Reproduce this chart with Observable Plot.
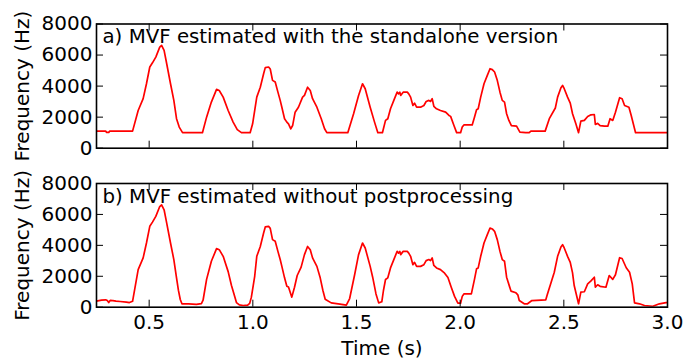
<!DOCTYPE html>
<html>
<head>
<meta charset="utf-8">
<script src="https://cdn.jsdelivr.net/npm/d3@7"></script>
<script src="https://cdn.jsdelivr.net/npm/@observablehq/plot@0.6"></script>
<style>
  html, body { margin: 0; padding: 0; background: #fff; }
  #chart { position: relative; width: 699px; height: 360px; }
  #chart svg { position: absolute; left: 0; display: block; }
</style>
</head>
<body>
<div id="chart"></div>
<script>
// ---------- data ----------
const panelTitles = ["a) MVF estimated with the standalone version", "b) MVF estimated without postprocessing"];
const xLabel = "Time (s)";
const yLabel = "Frequency (Hz)";
const xTicks = [0.5, 1.0, 1.5, 2.0, 2.5, 3.0];
const yTicks = [0, 2000, 4000, 6000, 8000];
const xDomain = [0.246, 3.0];
const yDomain = [0, 8000];

// a) standalone version (with postprocessing)
const timeA = [0.246,0.29,0.295,0.305,0.31,0.42,0.447,0.471,0.487,0.503,0.516,0.532,0.551,0.560,0.572,0.583,0.603,0.619,0.632,0.645,0.661,0.757,0.777,0.800,0.825,0.838,0.857,0.881,0.905,0.925,0.945,0.987,0.999,1.019,1.036,1.052,1.060,1.076,1.084,1.095,1.108,1.121,1.132,1.140,1.153,1.164,1.172,1.183,1.192,1.204,1.220,1.240,1.249,1.264,1.277,1.288,1.309,1.330,1.346,1.357,1.458,1.486,1.510,1.529,1.542,1.566,1.587,1.603,1.625,1.632,1.640,1.651,1.664,1.680,1.696,1.703,1.709,1.713,1.725,1.745,1.752,1.761,1.772,1.780,1.790,1.809,1.825,1.836,1.849,1.857,1.865,1.873,1.886,1.905,1.930,1.946,1.954,1.970,1.983,2.002,2.010,2.018,2.058,2.069,2.079,2.087,2.099,2.115,2.131,2.144,2.155,2.166,2.179,2.192,2.203,2.214,2.224,2.235,2.247,2.272,2.288,2.316,2.333,2.341,2.410,2.430,2.459,2.470,2.486,2.494,2.502,2.518,2.531,2.542,2.558,2.571,2.582,2.599,2.615,2.631,2.647,2.652,2.663,2.675,2.696,2.712,2.723,2.736,2.749,2.769,2.781,2.793,2.814,2.825,2.846,3.0];
const mvfA  = [1100,1100,1020,1020,1100,1100,2430,3190,4150,5230,5500,5870,6510,6620,6300,5550,4150,3080,1900,1360,1000,1000,2000,2970,3790,3720,3290,2430,1680,1200,1000,1000,1570,3290,3930,4800,5190,5230,5100,4370,4260,3610,3080,2640,1900,1680,1570,1250,1460,2320,2640,3290,3400,3930,3720,3190,2640,1900,1250,1000,1000,2220,3400,4150,3830,2640,1680,1000,1000,1360,1790,1900,2540,3080,3610,3500,3610,3400,3610,3610,3500,3290,2750,2900,2640,2640,2750,3010,3080,3010,3190,2700,2540,2430,2320,2110,2050,1460,1000,1000,1360,1500,1500,2000,2480,2540,3290,4150,4690,5120,5060,4910,4370,3610,3080,2970,2220,1790,1460,1420,1040,1000,1000,1100,1100,1900,2590,3290,3890,4040,3830,3290,2900,2220,1570,1000,1740,1790,2040,2150,2170,1530,1600,1460,1420,1420,1900,1790,2320,3250,3190,2750,2640,2110,1000,1000];

// b) without postprocessing
const timeB = [0.246,0.27,0.29,0.298,0.305,0.312,0.325,0.34,0.36,0.39,0.405,0.42,0.447,0.471,0.487,0.503,0.516,0.532,0.551,0.560,0.572,0.583,0.603,0.619,0.632,0.641,0.650,0.658,0.690,0.728,0.752,0.760,0.777,0.800,0.825,0.838,0.857,0.881,0.897,0.908,0.921,0.935,0.953,0.975,0.985,0.993,1.009,1.019,1.036,1.052,1.060,1.076,1.084,1.095,1.108,1.121,1.132,1.140,1.153,1.164,1.172,1.188,1.201,1.214,1.233,1.249,1.264,1.277,1.288,1.309,1.325,1.338,1.349,1.378,1.420,1.451,1.467,1.491,1.510,1.529,1.542,1.566,1.578,1.594,1.607,1.622,1.630,1.640,1.651,1.664,1.680,1.696,1.703,1.709,1.713,1.725,1.745,1.752,1.761,1.772,1.780,1.790,1.809,1.825,1.836,1.849,1.857,1.865,1.873,1.886,1.905,1.925,1.941,1.957,1.973,1.989,2.002,2.010,2.018,2.054,2.069,2.079,2.087,2.099,2.115,2.131,2.144,2.155,2.166,2.179,2.192,2.203,2.214,2.224,2.245,2.269,2.278,2.285,2.309,2.325,2.346,2.413,2.420,2.454,2.470,2.486,2.494,2.502,2.518,2.531,2.542,2.550,2.571,2.582,2.599,2.615,2.631,2.647,2.652,2.663,2.675,2.703,2.719,2.736,2.749,2.769,2.781,2.801,2.817,2.830,2.841,2.865,2.889,2.929,2.961,2.993,3.0];
const mvfB  = [390,460,480,430,300,440,430,390,370,330,300,380,2430,3190,4150,5230,5500,5870,6510,6620,6300,5550,4150,3080,1900,1100,500,220,210,180,230,450,1800,2970,3790,3720,3290,2300,1400,900,300,150,110,130,250,650,2000,3290,3930,4800,5190,5230,5100,4370,4260,3610,3080,2640,1900,1350,1300,650,1290,2050,2590,3400,3930,3720,3190,2640,1900,1080,520,280,200,130,560,2100,3400,4150,3830,2640,1940,860,280,350,1080,1790,1900,2540,3080,3610,3500,3610,3400,3610,3610,3500,3290,2750,2900,2640,2640,2750,3010,3080,3010,3190,2700,2540,2430,2200,1920,1290,700,260,260,700,860,860,1800,2480,2540,3290,4150,4690,5120,5060,4910,4370,3610,3080,2970,1940,1040,930,800,430,220,220,430,480,800,2260,3290,3890,4040,3830,3290,2900,2220,1400,220,970,1000,1510,1700,1940,1290,1450,1350,1290,2050,1800,2100,3200,3150,2550,2260,1510,280,220,110,60,220,300,300];

// ---------- drawing ----------
const W = 699;
const ML = 96, MR = 32;
const fw = W - ML - MR;
const FS = 20;
const TFS = 19.8;
const font = {fontFamily: "'DejaVu Sans', sans-serif", fontSize: FS + "px", background: "transparent", color: "black", overflow: "visible"};

function panel({times, values, title, top, height, marginTop, marginBottom, showX}) {
  const fh = height - marginTop - marginBottom;
  const data = times.map((t, i) => ({t, f: values[i]}));
  const marks = [
    Plot.line(data, {x: "t", y: "f", stroke: "red", strokeWidth: 1.7, clip: true}),
    Plot.tickX(xTicks, {x: d => d, insetTop: fh - 7, stroke: "black", strokeWidth: 1}),
    Plot.tickX(xTicks, {x: d => d, insetBottom: fh - 7, stroke: "black", strokeWidth: 1}),
    Plot.tickY(yTicks, {y: d => d, insetRight: fw - 7, stroke: "black", strokeWidth: 1}),
    Plot.tickY(yTicks, {y: d => d, insetLeft: fw - 7, stroke: "black", strokeWidth: 1}),
    Plot.axisY(yTicks, {tickSize: 0, tickPadding: 4, tickFormat: d3.format("d"), label: null, fontSize: FS, fill: "black"}),
    Plot.frame({stroke: "black", strokeWidth: 1.6}),
    Plot.text([title], {frameAnchor: "top-left", dx: 6, dy: 5, lineAnchor: "top", textAnchor: "start", fontSize: TFS, fill: "black", text: d => d}),
    Plot.text([yLabel], {frameAnchor: "left", dx: -74, rotate: -90, textAnchor: "middle", lineAnchor: "middle", fontSize: FS, fill: "black", text: d => d})
  ];
  if (showX) {
    marks.push(Plot.axisX(xTicks, {tickSize: 0, tickPadding: 8, tickFormat: d3.format(".1f"), label: null, fontSize: FS, fill: "black"}));
    marks.push(Plot.text([xLabel], {frameAnchor: "bottom", dy: 34, lineAnchor: "top", textAnchor: "middle", fontSize: FS, fill: "black", text: d => d}));
  }
  const svg = Plot.plot({
    width: W, height,
    marginTop, marginBottom, marginLeft: ML, marginRight: MR,
    style: font,
    x: {domain: xDomain, axis: null},
    y: {domain: yDomain, axis: null},
    marks
  });
  svg.style.top = top + "px";
  return svg;
}

const root = document.getElementById("chart");
root.appendChild(panel({times: timeA, values: mvfA, title: panelTitles[0], top: 0, height: 160, marginTop: 23.5, marginBottom: 12.3, showX: false}));
root.appendChild(panel({times: timeB, values: mvfB, title: panelTitles[1], top: 160, height: 200, marginTop: 23, marginBottom: 53.3, showX: true}));
</script>
</body>
</html>
